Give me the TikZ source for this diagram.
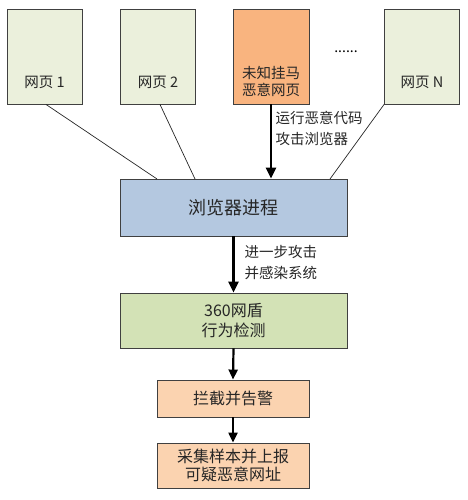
\documentclass[tikz,border=0pt]{standalone}
\usepackage{fontspec}
\setmainfont{Noto Sans CJK SC}
\usetikzlibrary{arrows.meta,calc,positioning}
\definecolor{pagefill}{HTML}{EBF0DC}
\definecolor{badfill}{HTML}{F9B47F}
\definecolor{procfill}{HTML}{B4C8E0}
\definecolor{shieldfill}{HTML}{D3E2B6}
\definecolor{stepfill}{HTML}{FBD3B0}
\definecolor{edge}{HTML}{404040}

\begin{document}
\begin{tikzpicture}[
  x=1pt,y=-1pt,>=Latex,
  base/.style={draw=edge,line width=.9pt,align=center,inner sep=2pt,
    font=\fontsize{14.5}{17}\selectfont,text=black!85},
  page/.style={base,fill=pagefill,minimum width=75pt,minimum height=95pt},
  badpage/.style={base,fill=badfill,minimum width=76pt,minimum height=95pt},
  wide/.style={base,fill=procfill,minimum width=227pt,minimum height=57pt,
    font=\fontsize{18}{21}\selectfont},
  shield/.style={base,fill=shieldfill,minimum width=227pt,minimum height=55pt,
    font=\fontsize{16}{20}\selectfont},
  stepbox/.style={base,fill=stepfill,minimum width=152pt,font=\fontsize{16}{18}\selectfont},
  tag/.style={font=\fontsize{14.5}{17}\selectfont,text=black!85,align=left},
  thin/.style={draw=black!85,line width=.7pt},
  thick/.style={draw=black,line width=2.6pt,-{Triangle[length=11pt,width=10pt]}},
  mid/.style={draw=black,line width=2.2pt,-{Triangle[length=10pt,width=9pt]}}
]
\useasboundingbox (0,0) rectangle (467,500);

% Top row: the web pages, one of them carries the trojan.
\node[page] (p1) at (44.5,56.5) {};
\node[page] (p2) at (158,56.5) {};
\node[badpage] (bad) at (271,56.5) {};
\node[page] (pn) at (422,56.5) {};
\node[tag] (t1) at (44.5,82) {网页 1};
\node[tag] (t2) at (158,82) {网页 2};
\node[tag,align=center] (tb) at (271,81.5) {未知挂马\\恶意网页};
\node[tag] (tn) at (422,82) {网页 N};
\node[font=\fontsize{14}{16}\selectfont] (dots) at (346,52) {......};

% Middle: browser process and the shield.
\node[wide] (browser) at (233.5,207.5) {浏览器进程};
\node[shield] (shield) at (233.5,320.5) {360网盾\\行为检测};

% Bottom: the reaction.
\node[stepbox,minimum height=37pt] (block) at (233,398.5) {拦截并告警};
\node[stepbox,minimum height=45pt] (report) at (233,465.5) {采集样本并上报\\可疑恶意网址};

% Where the plain page links meet the browser box.
\coordinate (in1) at (157,179);
\coordinate (in2) at (195,179);
\coordinate (inn) at (330,179);
\draw[thin] (p1.south) ++(1.5,0) -- (in1);
\draw[thin] (p2.south) ++(2,0) -- (in2);
\draw[thin] (pn.south west) -- (inn);

\draw[thick] (bad.south) -- (bad.south |- browser.north);
\node[tag,anchor=north west,font=\fontsize{14.5}{21}\selectfont] (run) at (272,108) {运行恶意代码\\攻击浏览器};
\draw[thick] (browser.south) -- (shield.north);
\node[tag,anchor=north west,font=\fontsize{14.5}{21}\selectfont] (spread) at (241,242) {进一步攻击\\并感染系统};
\draw[mid] (shield.south) -- (block.north);
\draw[mid] (block.south) -- (report.north);
\end{tikzpicture}
\end{document}
